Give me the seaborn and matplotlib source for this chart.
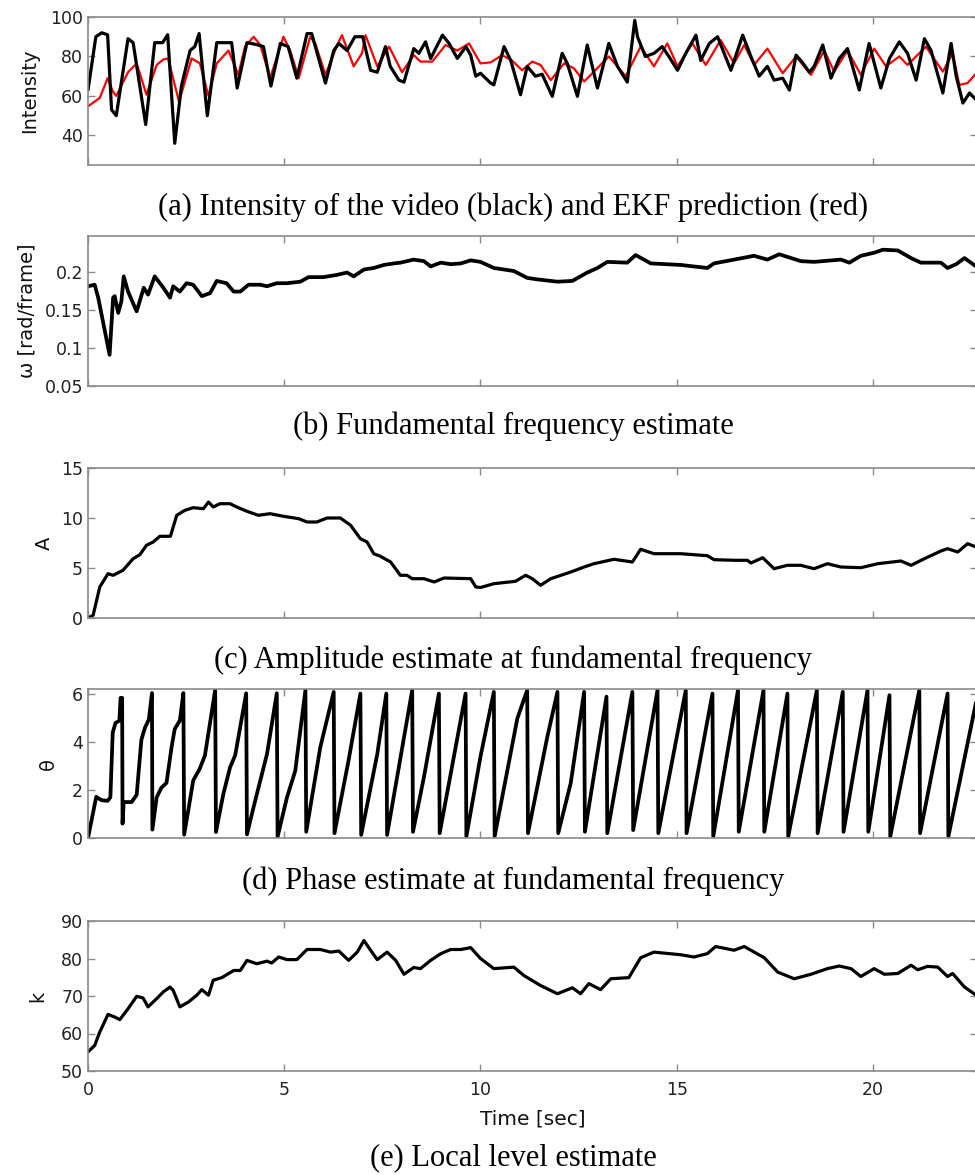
import numpy as np
import pandas as pd
import matplotlib
matplotlib.use("Agg")
import matplotlib.pyplot as plt
import seaborn as sns

# ---------------- data (time in seconds) ----------------
# (a) video intensity (black) and EKF prediction (red)
int_t = [0.00, 0.20, 0.35, 0.50, 0.60, 0.72, 1.02, 1.15, 1.47, 1.70, 1.90, 2.03, 2.21, 2.38,
         2.60, 2.72, 2.83, 3.04, 3.28, 3.53, 3.66, 3.80, 4.05, 4.30, 4.47, 4.66, 4.90, 5.10,
         5.32, 5.58, 5.70, 6.05, 6.26, 6.39, 6.60, 6.80, 7.00, 7.20, 7.37, 7.58, 7.70, 7.92,
         8.05, 8.30, 8.43, 8.60, 8.73, 9.03, 9.20, 9.41, 9.63, 9.75, 9.88, 10.00, 10.26, 10.34,
         10.60, 10.77, 11.02, 11.19, 11.40, 11.57, 11.83, 12.08, 12.21, 12.47, 12.72, 12.98,
         13.27, 13.49, 13.74, 13.93, 14.00, 14.20, 14.42, 14.63, 14.80, 15.02, 15.23, 15.49,
         15.61, 15.83, 16.04, 16.38, 16.68, 16.89, 17.10, 17.31, 17.48, 17.70, 17.87, 18.04,
         18.20, 18.38, 18.50, 18.72, 18.93, 19.14, 19.35, 19.65, 19.90, 20.20, 20.42, 20.67,
         20.88, 21.10, 21.31, 21.48, 21.78, 21.99, 22.12, 22.29, 22.46, 22.63]
int_video = [63, 90, 92, 91, 53, 50, 89, 87, 45.5, 87, 87, 91, 36, 65,
             83, 85, 91.6, 50, 87, 87, 87, 64, 87, 86, 85, 65, 86.6, 85,
             69, 91.6, 91.6, 66.5, 83, 86.6, 83, 90, 90, 73, 72, 85, 75, 68,
             67, 84, 81.6, 87.4, 79, 90.8, 86.6, 79, 85, 80.7, 70, 71.5, 66.5, 65.6,
             85, 78, 60.6, 75, 70, 71, 59.8, 81.6, 76.5, 59.8, 85.8, 64,
             86.6, 75, 67, 98.3, 90, 80, 81.6, 85, 80, 73, 81.6, 90.8,
             78, 86.6, 90, 73, 90.8, 80, 70, 75, 68, 69, 63, 80.7,
             77, 72, 75, 85.8, 69, 79, 84, 63, 86.6, 64, 79, 87.4,
             81.6, 68, 89, 83, 61.5, 86.6, 70, 56.4, 61.5, 58]

pred_t = [0.00, 0.30, 0.50, 0.64, 0.72, 1.02, 1.24, 1.49, 1.75, 1.92, 2.04, 2.32, 2.64, 2.85,
          3.07, 3.28, 3.58, 3.83, 4.00, 4.22, 4.39, 4.64, 4.90, 4.98, 5.15, 5.37, 5.66, 5.79,
          6.05, 6.35, 6.47, 6.77, 6.98, 7.07, 7.37, 7.67, 8.00, 8.30, 8.47, 8.77, 9.11, 9.41,
          9.71, 10.00, 10.26, 10.55, 10.80, 11.06, 11.32, 11.53, 11.79, 12.13, 12.38, 12.64,
          12.89, 13.27, 13.70, 14.08, 14.42, 14.76, 15.02, 15.40, 15.74, 16.12, 16.46, 16.72,
          16.97, 17.31, 17.70, 18.04, 18.42, 18.76, 19.01, 19.35, 19.69, 20.03, 20.33, 20.67,
          20.88, 21.35, 21.78, 22.03, 22.20, 22.41, 22.63]
pred_ekf = [54.7, 59, 69, 62, 60, 72, 76.5, 60.6, 75.7, 78.5, 79, 57, 79, 76.5,
            60, 76.5, 83, 70.7, 85, 90, 85.8, 69, 85, 90, 83, 69, 90, 86.6,
            70.7, 85.8, 90.8, 75, 81.6, 90.8, 75, 85, 72, 80.7, 77.4, 77.4, 85.8, 83,
            86.6, 76.5, 77, 80.7, 78, 73, 77.4, 75.7, 68, 76.5, 74, 67.3,
            72.3, 80, 70, 85, 75, 86.6, 75, 86.6, 75.7, 88.3, 76.5, 85.8,
            75.7, 84, 71.5, 80, 70.7, 83, 72.3, 83, 70.7, 84, 75, 80,
            75.7, 85, 72.3, 81.6, 65.6, 66.5, 71.5]

# (b) fundamental frequency estimate [rad/frame]
om_t = [0.00, 0.17, 0.26, 0.55, 0.64, 0.68, 0.77, 0.85, 0.91, 1.02, 1.24, 1.42, 1.53, 1.70,
        1.92, 2.09, 2.17, 2.34, 2.51, 2.68, 2.90, 3.11, 3.28, 3.53, 3.71, 3.88, 4.09, 4.39,
        4.56, 4.81, 5.07, 5.41, 5.62, 6.00, 6.35, 6.60, 6.77, 7.03, 7.28, 7.54, 7.79, 7.96,
        8.30, 8.56, 8.73, 8.99, 9.24, 9.50, 9.75, 10.00, 10.34, 10.85, 11.19, 11.45, 11.96,
        12.34, 12.72, 12.98, 13.23, 13.74, 13.95, 14.34, 15.10, 15.78, 15.95, 16.46, 16.97,
        17.31, 17.61, 18.16, 18.50, 19.18, 19.40, 19.69, 20.03, 20.25, 20.63, 20.97, 21.22,
        21.73, 21.90, 22.12, 22.33, 22.63]
om_val = [0.181, 0.183, 0.166, 0.091, 0.166, 0.168, 0.146, 0.161, 0.194, 0.174, 0.148, 0.179,
          0.170, 0.194, 0.179, 0.166, 0.181, 0.174, 0.185, 0.183, 0.168, 0.172, 0.188, 0.185,
          0.174, 0.174, 0.183, 0.183, 0.181, 0.185, 0.185, 0.187, 0.193, 0.193, 0.196, 0.199,
          0.194, 0.203, 0.205, 0.209, 0.211, 0.212, 0.216, 0.214, 0.207, 0.212, 0.210, 0.211,
          0.215, 0.213, 0.205, 0.201, 0.192, 0.190, 0.187, 0.188, 0.199, 0.205, 0.213, 0.212,
          0.222, 0.211, 0.209, 0.205, 0.211, 0.216, 0.221, 0.216, 0.223, 0.214, 0.213, 0.216,
          0.212, 0.221, 0.225, 0.229, 0.228, 0.218, 0.212, 0.212, 0.205, 0.210, 0.218, 0.207]

# (c) amplitude estimate
amp_t = [0.00, 0.13, 0.30, 0.51, 0.64, 0.89, 1.15, 1.32, 1.49, 1.66, 1.83, 2.10, 2.26, 2.47,
         2.68, 2.94, 3.07, 3.19, 3.36, 3.62, 3.79, 4.05, 4.34, 4.64, 4.98, 5.37, 5.58, 5.83,
         6.09, 6.43, 6.69, 6.94, 7.11, 7.28, 7.45, 7.71, 7.96, 8.13, 8.26, 8.56, 8.82, 9.07,
         9.75, 9.88, 10.00, 10.34, 10.89, 11.15, 11.32, 11.53, 11.79, 12.30, 12.64, 12.89,
         13.40, 13.87, 14.08, 14.42, 15.10, 15.78, 15.95, 16.46, 16.80, 16.89, 17.19, 17.48,
         17.82, 18.16, 18.50, 18.84, 19.18, 19.69, 20.12, 20.71, 20.97, 21.31, 21.73, 21.90,
         22.16, 22.41, 22.63]
amp_val = [0.0, 0.27, 3.1, 4.43, 4.27, 4.77, 5.93, 6.33, 7.27, 7.6, 8.17, 8.17, 10.27, 10.77,
           11.03, 10.93, 11.6, 11.1, 11.43, 11.43, 11.1, 10.67, 10.27, 10.43, 10.17, 9.93, 9.6, 9.6,
           10.0, 10.0, 9.27, 7.93, 7.6, 6.43, 6.17, 5.6, 4.27, 4.27, 3.93, 3.93, 3.6, 4.0,
           3.93, 3.1, 3.05, 3.43, 3.67, 4.27, 3.93, 3.27, 3.93, 4.6, 5.1, 5.43,
           5.87, 5.6, 6.87, 6.43, 6.43, 6.23, 5.83, 5.77, 5.77, 5.5, 6.03, 4.93,
           5.27, 5.27, 4.93, 5.43, 5.1, 5.03, 5.43, 5.7, 5.27, 5.93, 6.7, 6.93,
           6.6, 7.43, 7.1]

# (d) phase estimate [rad]
ph_t = [0.00, 0.21, 0.34, 0.50, 0.57, 0.63, 0.70, 0.80, 0.83, 0.87, 0.88, 0.91, 1.11, 1.24,
        1.36, 1.45, 1.55, 1.63, 1.64, 1.75, 1.87, 2.00, 2.13, 2.21, 2.34, 2.43, 2.45, 2.56,
        2.68, 2.85, 2.98, 3.24, 3.26, 3.45, 3.62, 3.75, 4.03, 4.05, 4.22, 4.56, 4.81, 4.83,
        5.07, 5.28, 5.54, 5.56, 5.92, 6.26, 6.28, 6.64, 6.94, 6.96, 7.37, 7.60, 7.62, 8.26,
        8.28, 8.56, 8.94, 8.96, 9.62, 9.64, 10.00, 10.34, 10.36, 10.94, 11.19, 11.21, 11.70,
        11.96, 11.98, 12.30, 12.64, 12.66, 13.21, 13.23, 13.87, 13.89, 14.17, 14.51, 14.53,
        15.23, 15.25, 15.91, 15.93, 16.56, 16.58, 17.21, 17.23, 17.82, 17.84, 18.57, 18.59,
        19.23, 19.25, 19.86, 19.88, 20.42, 20.44, 21.18, 21.20, 21.90, 21.92, 22.63]
ph_val = [0.0, 1.72, 1.58, 1.55, 1.70, 4.40, 4.80, 4.90, 5.85, 5.85, 0.60, 1.50, 1.50, 1.80,
          4.10, 4.60, 4.95, 6.05, 0.35, 1.70, 2.10, 2.30, 3.80, 4.55, 4.90, 6.05, 0.14, 1.20,
          2.40, 2.90, 3.45, 6.18, 0.25, 1.85, 2.95, 3.45, 6.04, 0.15, 1.30, 3.50, 6.04, 0.05,
          1.70, 2.80, 6.18, 0.26, 3.80, 6.10, 0.20, 3.25, 6.03, 0.13, 3.50, 6.03, 0.13, 6.17,
          0.26, 2.55, 6.03, 0.20, 6.03, 0.06, 3.40, 6.10, 0.06, 5.00, 6.17, 0.20, 4.20,
          6.10, 0.20, 2.30, 6.10, 0.26, 5.90, 0.20, 6.10, 0.33, 2.97, 6.17, 0.20,
          6.17, 0.20, 6.03, 0.06, 6.17, 0.26, 6.17, 0.26, 6.03, 0.06, 6.17, 0.20,
          6.10, 0.26, 6.17, 0.26, 5.96, 0.06, 6.17, 0.20, 6.03, 0.06, 5.70]

# (e) local level estimate
lvl_t = [0.00, 0.17, 0.30, 0.51, 0.68, 0.81, 1.02, 1.24, 1.40, 1.53, 1.75, 1.92, 2.09, 2.17,
         2.34, 2.56, 2.77, 2.90, 3.07, 3.19, 3.41, 3.71, 3.88, 4.05, 4.30, 4.56, 4.68, 4.86,
         5.07, 5.32, 5.58, 5.92, 6.18, 6.39, 6.64, 6.86, 7.03, 7.20, 7.37, 7.62, 7.84, 8.05,
         8.30, 8.47, 8.73, 8.99, 9.24, 9.50, 9.75, 10.00, 10.34, 10.85, 11.10, 11.53, 11.96,
         12.34, 12.55, 12.76, 13.06, 13.32, 13.78, 14.08, 14.42, 15.10, 15.44, 15.78, 15.99,
         16.46, 16.72, 17.23, 17.57, 17.99, 18.42, 18.84, 19.14, 19.44, 19.69, 20.03, 20.29,
         20.63, 20.97, 21.14, 21.39, 21.65, 21.90, 22.03, 22.33, 22.63]
lvl_val = [55.1, 56.8, 60.4, 65.1, 64.4, 63.7, 66.6, 69.9, 69.5, 67.1, 69.3, 71.1, 72.4, 71.5,
           67.1, 68.4, 70.2, 71.7, 70.2, 74.2, 74.9, 76.8, 76.8, 79.5, 78.6, 79.3, 78.8, 80.4,
           79.7, 79.7, 82.4, 82.4, 81.7, 82.0, 79.5, 81.7, 84.8, 82.2, 79.7, 81.7, 79.5, 75.8,
           77.6, 77.3, 79.5, 81.3, 82.4, 82.4, 82.9, 80.0, 77.3, 77.7, 75.5, 72.8, 70.6,
           72.2, 70.6, 73.3, 71.7, 74.6, 74.9, 80.2, 81.7, 81.0, 80.4, 81.3, 83.2,
           82.2, 83.2, 80.2, 76.4, 74.6, 75.8, 77.3, 78.0, 77.3, 75.2, 77.3, 75.8,
           76.0, 78.2, 77.0, 77.9, 77.7, 75.2, 76.0, 72.4, 70.2]

x_ticks = [0, 5, 10, 15, 20]
x_max = 22.65

captions = [
    "(a) Intensity of the video (black) and EKF prediction (red)",
    "(b) Fundamental frequency estimate",
    "(c) Amplitude estimate at fundamental frequency",
    "(d) Phase estimate at fundamental frequency",
    "(e) Local level estimate",
]

# ---------------- styling ----------------
sns.set_theme(style="ticks")
plt.rcParams["font.family"] = ["DejaVu Sans"]
plt.rcParams.update({
    "axes.edgecolor": "#8a8a8a",
    "axes.linewidth": 1.2,
    "xtick.color": "#8a8a8a",
    "ytick.color": "#8a8a8a",
    "xtick.labelcolor": "#222222",
    "ytick.labelcolor": "#222222",
    "xtick.direction": "in",
    "ytick.direction": "in",
    "xtick.major.size": 5,
    "ytick.major.size": 5,
    "xtick.major.width": 1.0,
    "ytick.major.width": 1.0,
    "xtick.labelsize": 12.5,
    "ytick.labelsize": 12.5,
    "axes.labelsize": 14,
    "axes.labelcolor": "#111111",
})

W, H = 975, 1175
fig = plt.figure(figsize=(W / 100, H / 100), dpi=100)

# panel boxes in pixel coordinates: (top, bottom)
boxes = [(17, 165), (236, 386), (468, 618), (689, 838), (921, 1071)]
left_px, right_px = 88, 977
axes = []
for top, bot in boxes:
    ax = fig.add_axes([left_px / W, 1 - bot / H, (right_px - left_px) / W, (bot - top) / H])
    axes.append(ax)

black_lw = 2.3

# (a)
ax = axes[0]
sns.lineplot(x=pred_t, y=pred_ekf, ax=ax, color="#ff0000", linewidth=1.6, estimator=None)
sns.lineplot(x=int_t, y=int_video, ax=ax, color="black", linewidth=black_lw, estimator=None)
ax.set_ylim(25, 100)
ax.set_yticks([40, 60, 80, 100])
ax.set_ylabel("Intensity", labelpad=8)

# (b)
ax = axes[1]
sns.lineplot(x=om_t, y=om_val, ax=ax, color="black", linewidth=black_lw + 0.4, estimator=None)
ax.set_ylim(0.05, 0.247)
ax.set_yticks([0.05, 0.1, 0.15, 0.2])
ax.set_yticklabels(["0.05", "0.1", "0.15", "0.2"])
ax.set_ylabel("ω [rad/frame]", labelpad=6)

# (c)
ax = axes[2]
sns.lineplot(x=amp_t, y=amp_val, ax=ax, color="black", linewidth=black_lw, estimator=None)
ax.set_ylim(0, 15)
ax.set_yticks([0, 5, 10, 15])
ax.set_ylabel("A", labelpad=5)

# (d)
ax = axes[3]
sns.lineplot(x=ph_t, y=ph_val, ax=ax, color="black", linewidth=black_lw + 0.4, estimator=None)
ax.set_ylim(0, 6.22)
ax.set_yticks([0, 2, 4, 6])
ax.set_ylabel("θ", labelpad=10)

# (e)
ax = axes[4]
sns.lineplot(x=lvl_t, y=lvl_val, ax=ax, color="black", linewidth=black_lw, estimator=None)
ax.set_ylim(50, 90)
ax.set_yticks([50, 60, 70, 80, 90])
ax.set_ylabel("k", labelpad=10)
ax.set_xlabel("Time [sec]", fontsize=14.5, labelpad=8)

for i, ax in enumerate(axes):
    ax.set_xlim(0, x_max)
    ax.set_xticks(x_ticks)
    ax.tick_params(top=True, right=True, which="both")
    for s in ax.spines.values():
        s.set_visible(True)
    if i < 4:
        ax.set_xticklabels([])
        ax.set_xlabel("")
    else:
        ax.set_xticklabels([str(v) for v in x_ticks])
        ax.tick_params(axis="x", pad=7)

caption_y = [207, 426, 660, 881, 1158]
for cap, cy in zip(captions, caption_y):
    fig.text(513 / W, 1 - cy / H, cap, ha="center", va="center",
             family=["Liberation Serif", "DejaVu Serif"], fontsize=22, color="black")

fig.savefig("out.png", dpi=100)
